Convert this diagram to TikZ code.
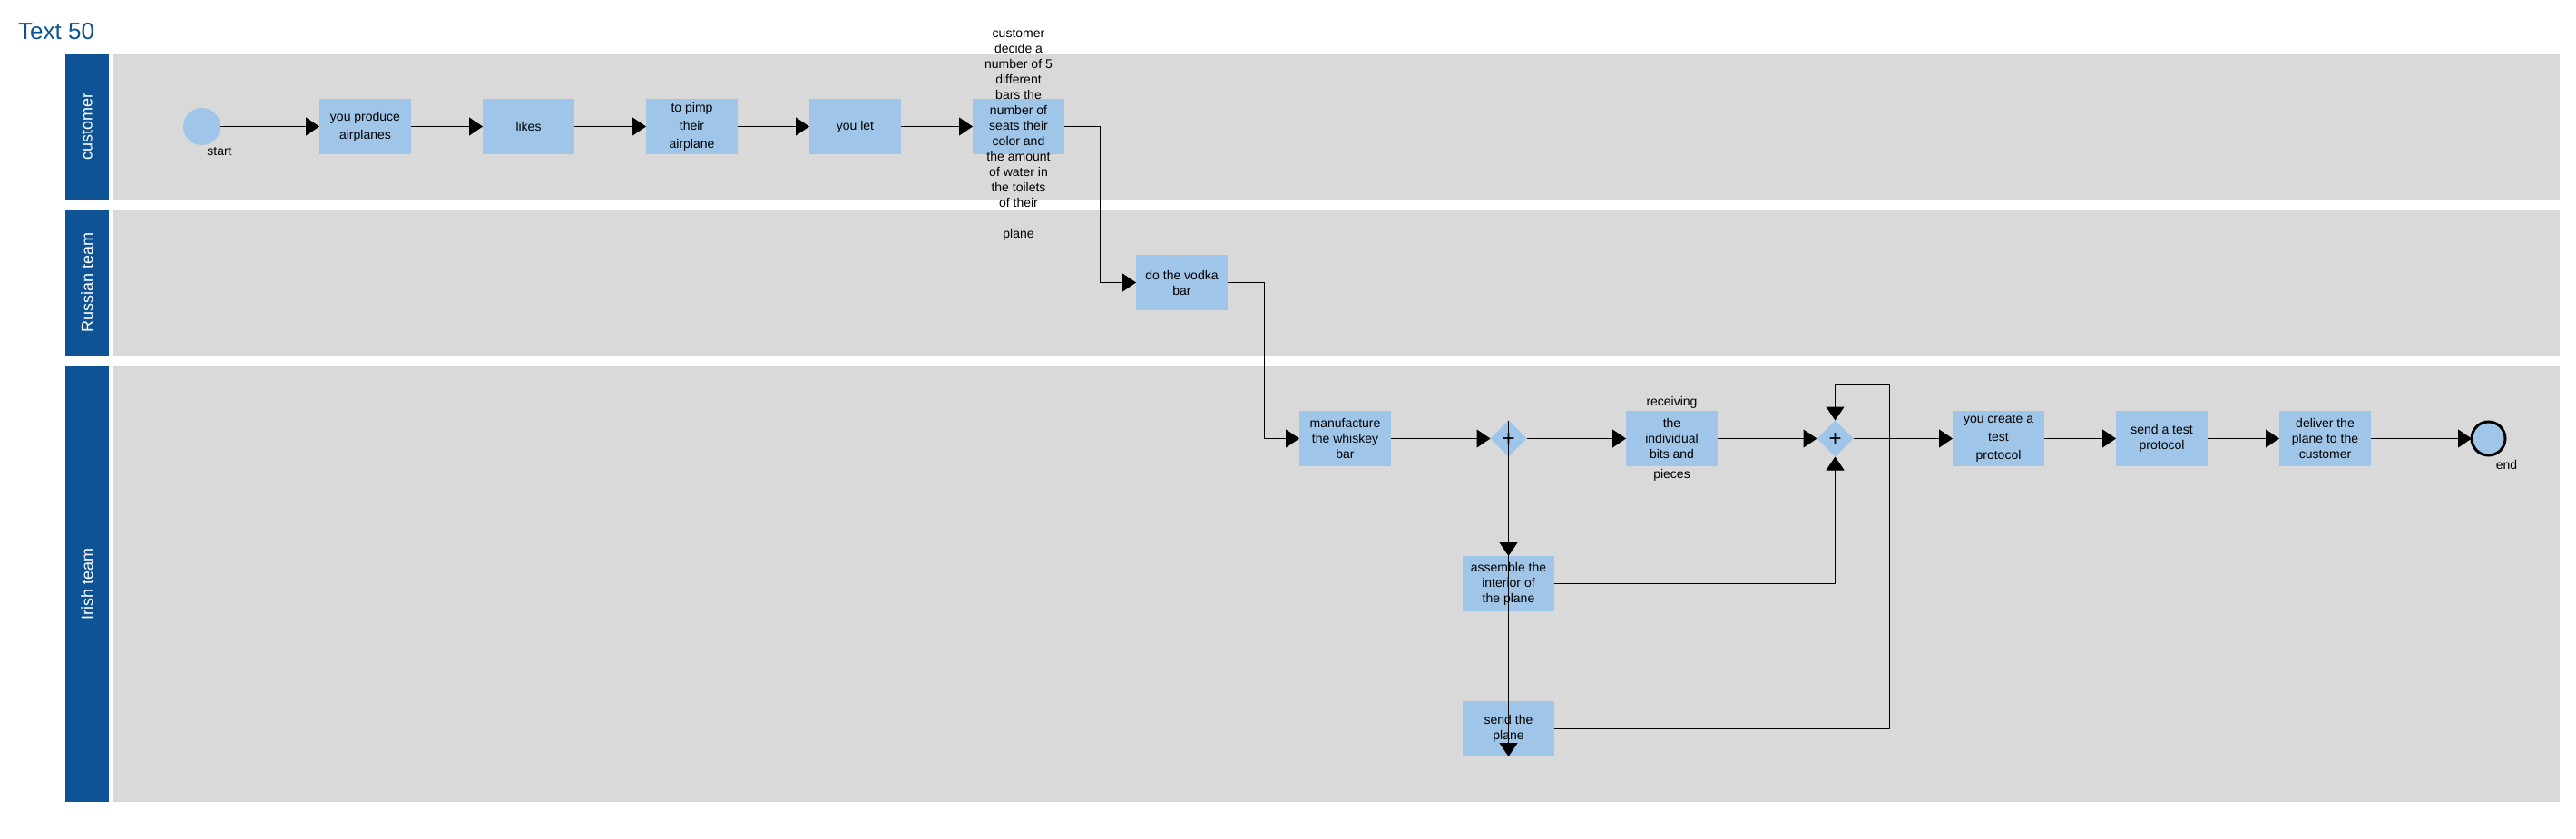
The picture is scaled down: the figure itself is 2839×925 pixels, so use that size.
\documentclass[tikz,border=0pt]{standalone}
\usepackage{fontspec}
\setmainfont{Liberation Sans}
\usetikzlibrary{arrows.meta,shapes.geometric}
\definecolor{laneblue}{HTML}{0E5395}
\definecolor{lanegray}{HTML}{D9D9D9}
\definecolor{taskblue}{HTML}{9FC5E8}
\tikzset{
  lanebar/.style={fill=laneblue, draw=none},
  lanebg/.style={fill=lanegray, draw=none},
  lanelabel/.style={text=white, rotate=90, inner sep=0pt, font=\fontsize{18}{21}\selectfont},
  task/.style={fill=taskblue, draw=none, minimum width=101pt, minimum height=61pt, inner sep=0pt, outer sep=0pt, align=center, font=\fontsize{14}{17}\selectfont},
  widelines/.style={font=\fontsize{14}{20}\selectfont},
  gateway/.style={diamond, fill=taskblue, draw=none, minimum width=40pt, minimum height=40pt, inner sep=0pt, outer sep=0pt},
  plus/.style={inner sep=0pt, font=\fontsize{24}{24}\selectfont},
  startev/.style={circle, fill=taskblue, draw=none, minimum size=41pt, inner sep=0pt, outer sep=0pt},
  endev/.style={circle, fill=taskblue, draw=black, line width=3pt, minimum size=37pt, inner sep=0pt, outer sep=0pt},
  txt/.style={inner sep=0pt, align=center, font=\fontsize{14}{17}\selectfont},
  flow/.style={draw=black, line width=1pt, -{Triangle[length=15pt,width=20pt]}}
}
\begin{document}
\begin{tikzpicture}[x=1pt,y=-1pt]
\useasboundingbox (0,0) rectangle (2839,925);
% title
\node[anchor=base west, inner sep=0pt, text=laneblue, font=\fontsize{26}{30}\selectfont] (title) at (20,44) {Text 50};
% lanes
\path[lanebar] (72,59) rectangle (120,220);
\path[lanebg] (125,59) rectangle (2821,220);
\path[lanebar] (72,231) rectangle (120,392);
\path[lanebg] (125,231) rectangle (2821,392);
\path[lanebar] (72,403) rectangle (120,884);
\path[lanebg] (125,403) rectangle (2821,884);
\node[lanelabel] (lcust) at (96,139.5) {customer};
\node[lanelabel] (lrus) at (96,311.5) {Russian team};
\node[lanelabel] (liri) at (96,643.5) {Irish team};
% customer lane
\node[startev] (start) at (222.5,139.5) {};
\node[txt] (startlbl) at (242,167) {start};
\node[task, widelines] (produce) at (402.5,139.5) {you produce\\airplanes};
\node[task] (likes) at (582.5,139.5) {likes};
\node[task, widelines] (pimp) at (762.5,139.5) {to pimp\\their\\airplane};
\node[task] (youlet) at (942.5,139.5) {you let};
\node[task] (decide) at (1122.5,139.5) {};
\node[txt] (decidetext) at (1122.5,148.5) {customer\\decide a\\number of 5\\different\\bars the\\number of\\seats their\\color and\\the amount\\of water in\\the toilets\\of their\\[17pt]plane};
% Russian lane
\node[task] (vodka) at (1302.5,311.5) {do the vodka\\bar};
% Irish lane
\node[task] (manu) at (1482.5,483.5) {manufacture\\the whiskey\\bar};
\node[gateway] (gw1) at (1662.5,483.5) {};
\node[plus] (gw1p) at (1662.5,484.5) {+};
\node[task] (recv) at (1842.5,483.5) {};
\node[txt] (recvtext) at (1842.5,483.5) {receiving\\[7pt]the\\individual\\bits and\\[5pt]pieces};
\node[gateway] (gw2) at (2022.5,483.5) {};
\node[plus] (gw2p) at (2022.5,484.5) {+};
\node[task] (assemble) at (1662.5,643.5) {assemble the\\interior of\\the plane};
\node[task] (send) at (1662.5,803.5) {send the\\plane};
\node[task, widelines] (create) at (2202.5,483.5) {you create a\\test\\protocol};
\node[task] (sendtest) at (2382.5,483.5) {send a test\\protocol};
\node[task] (deliver) at (2562.5,483.5) {deliver the\\plane to the\\customer};
\node[endev] (end) at (2742.5,483.5) {};
\node[txt] (endlbl) at (2762.5,512) {end};
\coordinate (loop) at (2082,423);
% connectors
\draw[flow] (start.east) -- (produce.west);
\draw[flow] (produce.east) -- (likes.west);
\draw[flow] (likes.east) -- (pimp.west);
\draw[flow] (pimp.east) -- (youlet.west);
\draw[flow] (youlet.east) -- (decide.west);
\draw[flow] (decide.east) -- ++(39.5,0) |- (vodka.west);
\draw[flow] (vodka.east) -- ++(40,0) |- (manu.west);
\draw[flow] (manu.east) -- (gw1.west);
\draw[flow] (gw1.east) -- (recv.west);
\draw[flow] (recv.east) -- (gw2.west);
\draw[flow] (gw1.south) -- (assemble.north);
\draw[flow] (gw1.north) -- (send.south);
\draw[flow] (assemble.east) -| (gw2.south);
\draw[flow] (send.east) -| (loop) -| (gw2.north);
\draw[flow] (gw2.east) -- (create.west);
\draw[flow] (create.east) -- (sendtest.west);
\draw[flow] (sendtest.east) -- (deliver.west);
\draw[flow] (deliver.east) -- (end.west);
\end{tikzpicture}
\end{document}
